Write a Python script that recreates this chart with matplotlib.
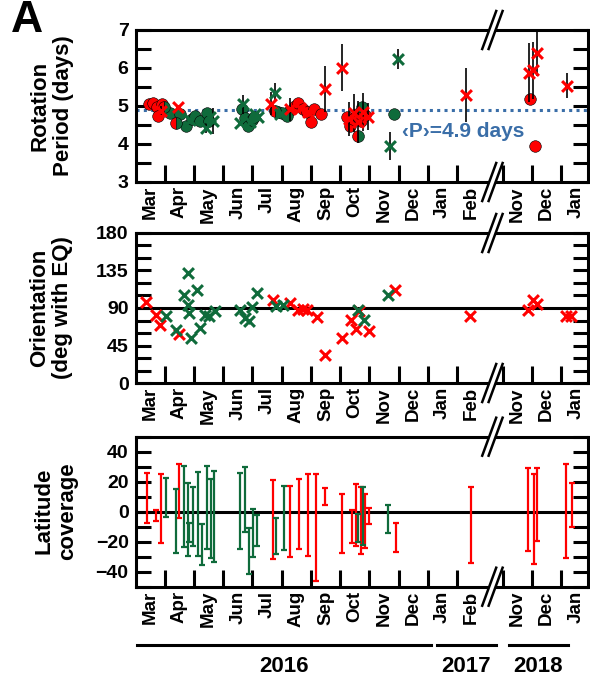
import numpy as np
import matplotlib
matplotlib.use('Agg')
import matplotlib.pyplot as plt
from matplotlib.ticker import MultipleLocator, FixedLocator, NullFormatter
from matplotlib.patches import Polygon
from matplotlib.lines import Line2D

plt.rcParams['font.family'] = ['Liberation Sans', 'DejaVu Sans']
plt.rcParams['font.weight'] = 'bold'

RED = '#ff0000'
GREEN = '#0f6b3b'
BLUE = '#3a6ea8'

# time axis: months since 1 Mar 2016; Mar 2017 - Oct 2017 is cut out
SHIFT = 7.44          # Nov 2017 (month 20) drawn at 12.56
XMAX = 15.48
BREAK_X = 12.21

month_names = ['Mar', 'Apr', 'May', 'Jun', 'Jul', 'Aug', 'Sep', 'Oct', 'Nov', 'Dec',
               'Jan', 'Feb', 'Nov', 'Dec', 'Jan']
month_start = list(range(12)) + [20, 21, 22]

# rotation period (days)
red_circ_m = [0.45, 0.60, 0.74, 0.78, 0.92, 5.20, 5.45, 5.57, 5.72, 5.85, 6.02, 6.12, 6.33,
              7.22, 7.35, 7.45, 7.58, 7.72, 7.85, 20.94, 21.11]
red_circ_p = [5.04, 5.07, 4.98, 4.74, 5.05, 4.83, 5.00, 5.09, 4.92, 4.85, 4.58, 4.92, 4.79,
              4.72, 4.48, 4.65, 4.78, 4.60, 4.75, 5.18, 3.95]
green_circ_m = [1.17, 1.51, 1.74, 1.92, 2.03, 2.20, 2.43, 2.52, 3.63, 3.74, 3.85, 3.97, 4.06,
                4.88, 5.00, 5.17, 7.74, 8.83]
green_circ_p = [4.82, 4.78, 4.47, 4.66, 4.74, 4.60, 4.82, 4.60, 4.91, 4.69, 4.47, 4.62, 4.72,
                4.85, 4.82, 4.74, 4.98, 4.80]
both_circ_m = [0.97, 1.40, 4.77, 7.60]
both_circ_p = [4.98, 4.56, 4.87, 4.20]

red_x_m = [0.88, 1.46, 4.65, 5.28, 5.62, 5.90, 6.48, 7.05, 7.30, 7.48, 7.62, 7.78, 7.95,
           11.30, 20.89, 21.04, 21.17, 22.20]
red_x_p = [4.88, 4.97, 5.06, 4.91, 4.95, 4.85, 5.44, 6.01, 4.65, 4.82, 4.58, 4.85, 4.72,
           5.29, 5.88, 5.94, 6.40, 5.53]
red_x_err = [0.12, 0.0, 0.30, 0.30, 0.0, 0.0, 0.60, 0.62, 0.45, 0.50, 0.55, 0.50, 0.35,
             0.70, 0.77, 0.75, 0.60, 0.33]
green_x_m = [1.86, 2.40, 2.55, 2.66, 3.57, 3.68, 3.90, 4.08, 4.18, 4.77, 4.95, 8.72, 8.97]
green_x_p = [4.62, 4.43, 4.70, 4.60, 4.56, 5.04, 4.58, 4.80, 4.72, 5.35, 4.78, 3.95, 6.23]
green_x_err = [0.0, 0.15, 0.0, 0.35, 0.0, 0.24, 0.0, 0.0, 0.0, 0.25, 0.0, 0.36, 0.26]
mean_period = 4.9

# orientation (deg with equator)
red_orient_m = [0.37, 0.71, 0.85, 1.49, 4.69, 5.28, 5.55, 5.72, 5.87, 6.20, 6.48, 7.05, 7.36,
                7.54, 7.65, 7.99, 8.88, 11.45, 20.88, 21.05, 21.19, 22.17, 22.34]
red_orient = [97, 82, 70, 59, 100, 96, 88, 89, 88, 79, 34, 54, 76,
              65, 86, 62, 112, 81, 88, 100, 95, 80, 80]
green_orient_m = [1.06, 1.37, 1.65, 1.80, 1.80, 1.83, 1.91, 2.12, 2.22, 2.37, 2.51, 2.71, 3.57,
                  3.74, 3.88, 4.00, 4.16, 4.79, 5.05, 7.62, 7.82, 8.65]
green_orient = [80, 64, 106, 132, 94, 84, 54, 111, 66, 82, 80, 86, 88,
                78, 74, 91, 108, 92, 94, 88, 76, 106]

# latitude coverage (deg), lower and upper limits
red_lat_m = [0.40, 0.71, 0.86, 1.48, 4.69, 5.28, 5.59, 5.90, 6.19, 6.48, 7.07, 7.39, 7.54,
             7.70, 7.85, 8.00, 8.90, 11.47, 20.88, 21.06, 21.19, 22.17, 22.37]
red_lat_lo = [-7.3, -6.0, -20.6, -4.0, -31.7, -30.0, -25.0, -29.3, -46.2, 4.4, -27.5, -20.6, -22.9,
              -28.2, -24.5, -8.4, -26.7, -33.9, -26.2, -34.9, -19.3, -31.0, -10.4]
red_lat_hi = [26.0, 1.1, 25.0, 31.6, 21.2, 17.1, 21.6, 25.1, 24.9, 15.6, 11.7, 1.1, 18.4,
              16.2, 11.8, 2.2, -7.8, 16.2, 29.3, 24.9, 28.9, 31.8, 18.9]
green_lat_m = [1.06, 1.37, 1.65, 1.80, 1.84, 1.98, 2.15, 2.27, 2.44, 2.59, 2.70, 3.59, 3.74,
               3.89, 4.02, 4.17, 4.79, 5.07, 7.62, 7.77, 8.65]
green_lat_lo = [-3.8, -27.3, -23.3, -29.5, -20.0, -22.9, -29.3, -35.3, -24.9, -31.0, -33.3, -25.0,
                -13.8, -41.7, -30.0, -22.6, -28.2, -25.6, -20.0, -22.2, -14.0]
green_lat_hi = [22.7, 15.0, 30.7, 19.3, -7.8, 16.6, 26.7, -8.4, 30.5, 21.6, 27.4, 26.0,
                30.0, -11.0, 1.8, -2.2, -4.0, 17.1, -1.8, 16.2, 4.4]

years = ['2016', '2017', '2018']


def to_axis(m):
    m = np.asarray(m, dtype=float)
    return np.where(m >= 19, m - SHIFT, m)


W, H = 590, 683
fig = plt.figure(figsize=(W / 100, H / 100), dpi=100)

left_px, right_px = 135.5, 588
panels_px = [(30, 182), (233, 383), (436.7, 586.7)]
axes = []
for top, bot in panels_px:
    ax = fig.add_axes([left_px / W, 1 - bot / H, (right_px - left_px) / W, (bot - top) / H])
    axes.append(ax)

bounds = to_axis([1, 2, 3, 4, 5, 6, 7, 8, 9, 10, 11, 20, 21, 22])
centers = to_axis(np.array(month_start) + 0.5)

for ax in axes:
    ax.set_xlim(0, XMAX)
    for s in ax.spines.values():
        s.set_linewidth(2.2)
    ax.xaxis.set_major_locator(FixedLocator(bounds))
    ax.xaxis.set_major_formatter(NullFormatter())
    ax.xaxis.set_minor_locator(FixedLocator(centers))
    ax.set_xticklabels(month_names, minor=True, rotation=90, fontsize=13.5, fontweight='bold')
    ax.tick_params(axis='x', which='major', direction='in', length=12, width=2.2,
                   bottom=True, top=False)
    ax.tick_params(axis='x', which='minor', length=0, pad=3)
    ax.tick_params(axis='y', which='both', direction='in', length=11, width=2.2,
                   left=True, right=True, labelsize=14, pad=5)

# rotation period panel
ax = axes[0]
ax.set_ylim(3, 7)
ax.yaxis.set_major_locator(MultipleLocator(1))
ax.yaxis.set_minor_locator(MultipleLocator(0.5))
ax.axhline(mean_period, color=BLUE, lw=2.2, ls=(0, (1, 1.4)), zorder=1)
ax.scatter(to_axis(red_circ_m), red_circ_p, s=70, c=RED, edgecolors='k', linewidths=0.4, zorder=2)
ax.scatter(to_axis(green_circ_m), green_circ_p, s=70, c=GREEN, edgecolors='k', linewidths=0.4,
           zorder=2)
ax.plot(to_axis(both_circ_m), both_circ_p, 'o', ms=8.5, mfc=RED, mfcalt=GREEN,
        fillstyle='left', mec='k', mew=0.4, ls='none', zorder=2)
ax.errorbar(to_axis(red_x_m), red_x_p, yerr=red_x_err, fmt='none', ecolor='k', elinewidth=1.2,
            zorder=3)
ax.errorbar(to_axis(green_x_m), green_x_p, yerr=green_x_err, fmt='none', ecolor='k',
            elinewidth=1.2, zorder=3)
ax.scatter(to_axis(red_x_m), red_x_p, s=60, marker='x', c=RED, linewidths=2.2, zorder=4)
ax.scatter(to_axis(green_x_m), green_x_p, s=60, marker='x', c=GREEN, linewidths=2.2, zorder=4)
ax.text(11.22, 4.32, '\u2039P\u203a=4.9 days', color=BLUE, fontsize=15, fontweight='bold',
        ha='center', va='center')

# orientation panel
ax = axes[1]
ax.set_ylim(0, 180)
ax.yaxis.set_major_locator(MultipleLocator(45))
ax.yaxis.set_minor_locator(MultipleLocator(15))
ax.axhline(90, color='k', lw=2.2, zorder=1)
ax.scatter(to_axis(red_orient_m), red_orient, s=60, marker='x', c=RED, linewidths=2.2, zorder=3)
ax.scatter(to_axis(green_orient_m), green_orient, s=60, marker='x', c=GREEN, linewidths=2.2,
           zorder=3)

# latitude coverage panel
ax = axes[2]
ax.set_ylim(-50, 50)
ax.yaxis.set_major_locator(MultipleLocator(20))
ax.yaxis.set_minor_locator(MultipleLocator(10))
ax.axhline(0, color='k', lw=2.2, zorder=1)
for xs, lo, hi, col in [(red_lat_m, red_lat_lo, red_lat_hi, RED),
                        (green_lat_m, green_lat_lo, green_lat_hi, GREEN)]:
    lo = np.array(lo)
    hi = np.array(hi)
    mid = (lo + hi) / 2
    ax.errorbar(to_axis(xs), mid, yerr=(hi - lo) / 2, fmt='none', ecolor=col, elinewidth=1.6,
                capsize=2.2, capthick=1.6, zorder=3)

# axis break marks on the top and bottom spines
for ax, (top, bot) in zip(axes, panels_px):
    xb = left_px + BREAK_X / XMAX * (right_px - left_px)
    for yc in (top, bot):
        dx, dy, gap = 7, 19, 3.2
        poly = [(xb - gap - dx, yc + dy), (xb + gap - dx, yc + dy),
                (xb + gap + dx, yc - dy), (xb - gap + dx, yc - dy)]
        poly = [(px / W, 1 - py / H) for px, py in poly]
        fig.add_artist(Polygon(poly, closed=True, facecolor='white', edgecolor='none',
                               transform=fig.transFigure, zorder=10))
        for off in (-gap, gap):
            fig.add_artist(Line2D([(xb + off - dx) / W, (xb + off + dx) / W],
                                  [1 - (yc + dy) / H, 1 - (yc - dy) / H],
                                  color='k', lw=1.8, transform=fig.transFigure, zorder=11))

# y axis titles
ylabels = [('Rotation\nPeriod (days)', 52, 106),
           ('Orientation\n(deg with EQ)', 51, 308),
           ('Latitude\ncoverage', 56, 511)]
for txt, x, y in ylabels:
    fig.text(x / W, 1 - y / H, txt, rotation=90, ha='center', va='center', fontsize=16,
             fontweight='bold', multialignment='center', linespacing=1.15)

fig.text(27 / W, 1 - 21 / H, 'A', ha='center', va='center', fontsize=32, fontweight='bold')

# year spans under the bottom panel
year_spans = [(137, 431), (437, 496), (509, 568)]
for (x0, x1), yr in zip(year_spans, years):
    fig.add_artist(Line2D([x0 / W, x1 / W], [1 - 645 / H, 1 - 645 / H], color='k', lw=2.2,
                          transform=fig.transFigure))
    fig.text((x0 + x1) / 2 / W, 1 - 667 / H, yr, ha='center', va='center', fontsize=16,
             fontweight='bold')

fig.savefig('out.png', dpi=100)
